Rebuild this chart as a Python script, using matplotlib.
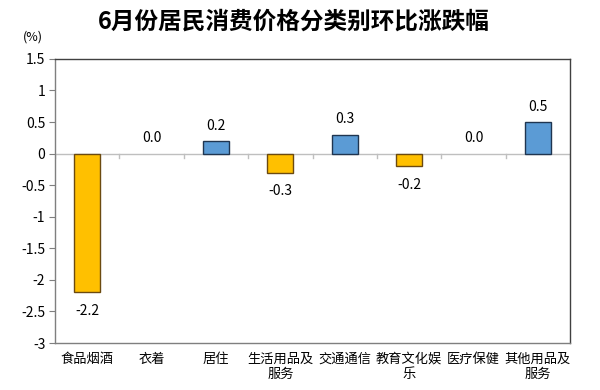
import numpy as np
import matplotlib.pyplot as plt

plt.rcParams['font.family'] = ['Noto Sans CJK SC', 'DejaVu Sans']

categories = ['食品烟酒', '衣着', '居住', '生活用品及\n服务', '交通通信',
              '教育文化娱\n乐', '医疗保健', '其他用品及\n服务']
values = [-2.2, 0.0, 0.2, -0.3, 0.3, -0.2, 0.0, 0.5]
yticks = [1.5, 1, 0.5, 0, -0.5, -1, -1.5, -2, -2.5, -3]
title = '6月份居民消费价格分类别环比涨跌幅'

fig = plt.figure(figsize=(6, 3.9), dpi=100)
ax = fig.add_axes([0.0917, 0.1205, 0.8583, 0.7285])

x = np.arange(len(categories))
colors = ['#FFC000' if v < 0 else '#5B9BD5' for v in values]
edges = ['#6B4A10' if v < 0 else '#1F3550' for v in values]
widths = [0 if v == 0 else 1 for v in values]
ax.bar(x, values, width=0.4, color=colors, edgecolor=edges, linewidth=widths, zorder=3)

for xi, v in zip(x, values):
    if v < 0:
        ax.text(xi, v - 0.18, f'{v:.1f}', ha='center', va='top', fontsize=10)
    else:
        ax.text(xi, v + 0.13, f'{v:.1f}', ha='center', va='bottom', fontsize=10)

# zero line with category separators
ax.axhline(0, color='#BFBFBF', linewidth=1, zorder=2)
for b in np.arange(-0.5, len(categories), 1.0):
    ax.plot([b, b], [0, -0.07], color='#BFBFBF', linewidth=1, zorder=2)

ax.set_xlim(-0.5, len(categories) - 0.5)
ax.set_ylim(-3, 1.5)
ax.set_yticks(yticks)
ax.set_yticklabels([f'{t:g}' for t in yticks], fontsize=10)
ax.set_xticks(x)
ax.set_xticklabels(categories, fontsize=9.5, linespacing=1.25)
ax.tick_params(axis='x', length=0, pad=7)
ax.tick_params(axis='y', length=4, width=0.8, color='#7F7F7F', pad=3)

for side in ['left', 'bottom']:
    ax.spines[side].set_color('#7F7F7F')
for side in ['top', 'right']:
    ax.spines[side].set_color('#404040')
for s in ax.spines.values():
    s.set_linewidth(1)

fig.text(0.49, 0.945, title, ha='center', va='center', fontsize=17, fontweight='bold')
fig.text(0.038, 0.905, '(%)', ha='left', va='center', fontsize=9)

plt.savefig('out.png', dpi=100)
